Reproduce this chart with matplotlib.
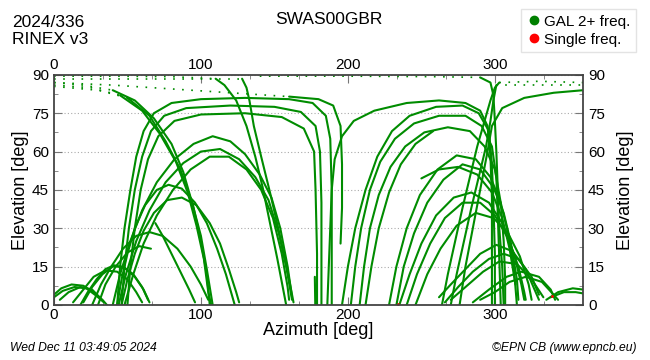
import numpy as np
import matplotlib.pyplot as plt
from matplotlib.lines import Line2D

plt.rcParams['font.family'] = ['Liberation Sans', 'DejaVu Sans']

GREEN = '#008c00'

# satellite tracks, (azimuth, elevation) in degrees
left_low_arcs = [
    [(0, 4), (5, 6.5), (12, 8), (20, 7.5), (27, 5), (33, 2), (36, 0)],
    [(0, 3), (6, 5.5), (14, 7), (22, 6.5), (29, 3.5), (34, 1)],
    [(4, 2), (10, 5), (18, 7), (26, 6), (31, 3)],
    [(18, 0), (23, 5), (29, 10), (35, 14), (41, 15.5), (48, 14.5), (55, 11), (61, 6), (65, 1)],
    [(20, 1), (26, 7), (33, 12), (40, 15), (47, 15), (54, 12), (60, 7), (64, 2)],
    [(13, 1), (20, 6), (27, 11), (35, 13.5), (43, 13), (50, 10), (56, 5), (60, 1)],
    [(26, 0), (32, 8), (39, 15), (47, 22), (56, 27), (65, 28.5), (74, 27), (84, 22), (93, 15), (100, 8), (105, 2)],
    [(30, 0), (35, 8), (42, 15), (50, 20.5), (58, 23), (66, 22)],
    [(69, 32), (74, 27), (80, 20), (86, 13), (92, 6), (96, 1)],
]

left_mid_arcs = [
    [(43, 0), (46, 10), (50, 20), (55, 30), (62, 39), (70, 45), (78, 47), (87, 45.5), (96, 40), (104, 32), (111, 22), (117, 12), (121, 4), (123, 0)],
    [(46, 0), (50, 10), (55, 20), (61, 29), (68, 36), (77, 41), (87, 42), (97, 39), (106, 32), (113, 24), (119, 14), (124, 5), (126, 1)],
    [(40, 0), (45, 12), (52, 25), (60, 37), (70, 48), (82, 57), (95, 63), (108, 66), (120, 64), (130, 59), (140, 51), (148, 42), (154, 30), (159, 15), (162, 3)],
    [(44, 0), (49, 12), (56, 25), (65, 37), (76, 48), (88, 55.5), (100, 60), (113, 61), (126, 57), (137, 50), (146, 41), (153, 28), (158, 15), (162, 2)],
    [(48, 0), (54, 12), (61, 24), (70, 35), (81, 45), (93, 53), (106, 58), (119, 58), (131, 53), (141, 45), (149, 34), (155, 20), (159, 7), (160, 2)],
]

# high passes: rise, cross near the zenith, set
high_passes = [
    [(43, 0), (45, 15), (48, 30), (52, 45), (56, 58), (61, 68), (68, 75), (80, 79), (100, 80.5), (130, 81), (160, 80.5), (176, 79), (185, 74), (188, 65), (189, 45), (189, 20), (189, 0)],
    [(46, 0), (48, 15), (51, 30), (55, 45), (60, 58), (66, 68), (75, 74), (90, 77), (120, 78), (150, 77.5), (168, 75.5), (178, 70), (181, 60), (182, 40), (182, 20), (182, 0)],
    [(50, 0), (52, 15), (55, 30), (59, 45), (64, 57), (71, 66), (82, 72), (100, 74.5), (130, 75), (155, 73.5), (170, 69), (177, 60), (178, 45), (179, 20), (179, 0)],
    [(40, 84), (55, 80), (68, 73), (80, 63), (88, 52), (95, 38), (100, 25), (104, 12), (106, 0)],
    [(45, 82), (60, 76), (72, 67), (83, 56), (91, 44), (97, 31), (102, 18), (105, 5), (107, 0)],
    [(50, 81), (65, 74), (76, 64), (86, 53), (94, 40), (100, 27), (104, 14), (108, 0)],
    [(110, 88.5), (116, 86), (124, 80), (131, 70), (137, 58), (142, 46), (147, 32), (152, 18), (156, 6), (158, 0)],
    [(128, 88.5), (131, 85), (133, 80), (136, 70), (141, 58), (147, 44), (153, 29), (159, 13), (163, 1)],
    [(160, 81.5), (180, 80.5), (190, 78), (195, 70), (196, 55), (196, 38), (195, 24)],
    [(186, 0), (187, 15), (188, 30), (189, 45), (191, 57), (196, 66), (204, 72), (218, 76), (240, 79), (262, 80), (280, 79), (290, 76), (295, 70), (297, 58), (298, 42), (298, 22), (298, 0)],
    [(196, 0), (200, 15), (205, 30), (212, 45), (220, 58), (230, 68), (242, 74), (260, 77.5), (278, 78), (289, 75), (296, 68), (298, 55), (299, 40), (300, 20), (300, 0)],
    [(202, 0), (205, 15), (209, 30), (215, 45), (222, 56), (232, 65), (245, 71), (262, 74), (280, 74), (291, 70), (298, 62), (301, 50), (302, 35), (303, 18), (304, 0)],
    [(208, 0), (211, 15), (215, 30), (221, 43), (229, 54), (239, 62), (252, 67.5), (268, 69.5), (283, 68), (293, 62), (300, 53), (304, 40), (306, 25), (307, 10), (307, 0)],
    [(212, 0), (216, 15), (221, 30), (228, 44), (236, 55), (246, 63), (258, 68)],
    [(264, 0), (268, 12), (273, 25), (278, 38), (283, 50), (288, 62), (293, 72), (297, 80), (300, 85), (303, 87)],
    [(270, 0), (274, 12), (279, 25), (284, 38), (289, 50), (294, 62), (297, 72), (299, 80), (301, 86)],
    [(276, 0), (280, 15), (285, 30), (290, 45), (295, 60), (298, 70), (305, 77), (320, 81), (340, 83), (360, 84)],
    [(290, 89), (297, 87), (299, 82), (300, 72), (301, 60), (302, 45), (303, 30), (305, 15), (306, 0)],
    [(177.5, 11), (177.8, 0)],
]

right_arcs = [
    [(228, 0), (233, 15), (240, 30), (249, 43), (261, 53), (274, 58.5), (287, 57), (297, 50), (304, 40), (309, 28), (313, 14), (315, 0)],
    [(233, 0), (238, 15), (245, 28), (254, 40), (265, 49), (278, 55), (290, 53), (299, 46), (306, 36), (311, 24), (315, 10), (316, 2)],
    [(250, 49.5), (262, 53), (275, 54), (288, 51), (298, 44), (305, 34), (310, 22), (314, 8)],
    [(235, 0), (242, 12), (250, 24), (260, 35), (272, 42), (284, 44), (296, 40), (305, 32), (313, 20), (318, 8), (320, 2)],
    [(240, 0), (247, 12), (256, 24), (266, 34), (278, 40), (290, 40), (300, 35), (309, 26), (316, 15), (320, 5), (321, 2)],
    [(246, 0), (254, 12), (263, 22), (274, 31), (287, 36), (299, 34), (309, 28), (317, 19), (323, 8), (325, 2)],
    [(262, 3), (270, 8), (280, 14), (290, 20), (301, 23.5), (312, 21), (321, 14), (327, 6), (330, 2)],
    [(266, 1), (275, 7), (285, 13), (296, 18), (306, 20), (316, 18), (325, 11), (330, 4)],
    [(270, 2), (280, 7), (292, 13), (303, 17), (315, 16), (325, 10), (333, 3)],
    [(290, 2), (300, 5), (310, 9), (321, 11), (332, 9), (340, 4), (343, 2)],
    [(285, 1), (296, 6), (308, 11), (318, 13), (330, 11), (338, 6), (341, 2)],
    [(335, 2), (343, 5), (353, 6.5), (360, 6)],
    [(338, 3), (347, 5), (355, 5), (360, 4.5)],
]

# near-zenith parts, drawn as sparse dots in the reference
zenith_dots = [
    [(0, 89.5), (40, 89.5), (80, 89.3), (110, 88.5)],
    [(0, 88.5), (60, 88.5), (128, 88.5)],
    [(140, 89.5), (200, 89.5), (260, 89.3), (290, 89)],
    [(0, 87), (20, 86), (40, 84)],
    [(0, 86), (25, 85), (45, 82)],
    [(0, 85.5), (30, 84), (50, 81)],
    [(0, 87), (40, 86), (80, 84.5), (120, 83), (160, 81.5)],
    [(303, 87), (330, 87.5), (360, 87)],
    [(301, 86), (330, 86), (360, 86)],
]

single_freq_az = [234, 339]
single_freq_el = [0.5, 3.5]

fig = plt.figure(figsize=(6.5, 3.6), dpi=100)
ax = fig.add_axes([0.083, 0.153, 0.814, 0.639])

for tr in left_low_arcs + left_mid_arcs + high_passes + right_arcs:
    a = np.array(tr, dtype=float)
    ax.plot(a[:, 0], a[:, 1], color=GREEN, lw=1.5, solid_capstyle='round',
            solid_joinstyle='round')
for tr in zenith_dots:
    a = np.array(tr, dtype=float)
    ax.plot(a[:, 0], a[:, 1], color=GREEN, lw=1.2, ls=(0, (1, 4.5)))
ax.plot(single_freq_az, single_freq_el, 'o', color='red', ms=2, mec='none')

ax.set_xlim(0, 360)
ax.set_ylim(0, 90)
ax.set_xticks([0, 100, 200, 300])
ax.set_xticks([33.3, 66.7, 133.3, 166.7, 233.3, 266.7, 333.3], minor=True)
ax.set_yticks([0, 15, 30, 45, 60, 75, 90])
ax.set_yticks([7.5, 22.5, 37.5, 52.5, 67.5, 82.5], minor=True)
ax.grid(axis='y', which='major', ls=(0, (1, 2)), color='#aaaaaa', lw=0.8)
ax.tick_params(which='both', direction='in', top=True, right=True,
               labeltop=True, labelright=True, labelsize=11, color='#777777')
ax.tick_params(which='major', length=6)
ax.tick_params(which='minor', length=3)
ax.tick_params(axis='x', pad=2)
for s in ax.spines.values():
    s.set_color('#444444')
    s.set_linewidth(1.3)

ax.set_xlabel('Azimuth [deg]', fontsize=13, labelpad=0)
ax.set_ylabel('Elevation [deg]', fontsize=13, labelpad=2)
fig.text(0.963, 0.472, 'Elevation [deg]', rotation=90, ha='center', va='center', fontsize=13)

fig.text(0.018, 0.925, '2024/336', fontsize=12.5)
fig.text(0.018, 0.912, 'RINEX v3', fontsize=12.5, va='top')
fig.text(0.506, 0.945, 'SWAS00GBR', fontsize=12.5, ha='center', va='center')
fig.text(0.015, 0.033, 'Wed Dec 11 03:49:05 2024', fontsize=8.7, style='italic', va='center')
fig.text(0.98, 0.033, '\u00a9EPN CB (www.epncb.eu)', fontsize=8.7, style='italic', ha='right', va='center')

handles = [Line2D([], [], ls='none', marker='o', color='green', ms=6),
           Line2D([], [], ls='none', marker='o', color='red', ms=6)]
leg = fig.legend(handles, ['GAL 2+ freq.', 'Single freq.'], loc='upper right',
                 bbox_to_anchor=(0.99, 0.995), fontsize=11, handletextpad=0.2,
                 handlelength=1, borderpad=0.35, labelspacing=0.25, fancybox=False)
leg.get_frame().set_edgecolor('#dddddd')

fig.savefig('out.png', dpi=100)
